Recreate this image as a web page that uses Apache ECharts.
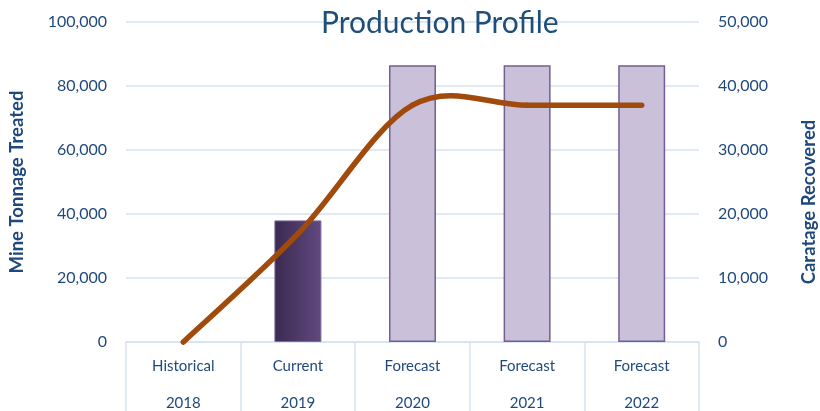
<!DOCTYPE html>
<html>
<head>
<meta charset="utf-8">
<script src="https://cdn.jsdelivr.net/npm/echarts@6/dist/echarts.min.js"></script>
<style>html,body{margin:0;padding:0;background:#fff;}#c{width:820px;height:411px;}</style>
</head>
<body>
<div id="c"></div>
<script>
const stages = ['Historical', 'Current', 'Forecast', 'Forecast', 'Forecast'];
const years = ['2018', '2019', '2020', '2021', '2022'];
const tonnage = [0, 38000, 86500, 86500, 86500];
const carats = [0, 16900, 37000, 37000, 37000];
const leftTicks = [0, 20000, 40000, 60000, 80000, 100000];
const rightTicks = [0, 10000, 20000, 30000, 40000, 50000];

const categories = stages.map((s, i) => s + '\n' + years[i]);
const FONT = 'Lato, "Open Sans", sans-serif';
const TXT = '#1F497D';
const GRID = '#D6E2F1';
const LINE = '#A04A0C';

const barData = tonnage.map((v, i) => {
  if (i === 1) {
    return {
      value: v,
      itemStyle: {
        color: new echarts.graphic.LinearGradient(0, 0, 1, 0, [
          { offset: 0, color: '#3A2A50' },
          { offset: 1, color: '#62497F' }
        ]),
        borderColor: '#7C6A9C',
        borderWidth: 1
      }
    };
  }
  return {
    value: v,
    itemStyle: { color: '#CBC0DA', borderColor: '#735F93', borderWidth: v === 0 ? 0 : 1.5 }
  };
});

const fmt = v => v.toLocaleString('en-US');

// Excel-style smoothed line: Catmull-Rom segments drawn through the axis scales
function renderSegment(params, api) {
  const i = params.dataIndex;
  const n = carats.length;
  if (i >= n - 1) return null;
  const P = k => {
    const kk = Math.max(0, Math.min(n - 1, k));
    return api.coord([kk, carats[kk]]);
  };
  const p0 = P(i - 1), p1 = P(i), p2 = P(i + 1), p3 = P(i + 2);
  const t = 1 / 6;
  return {
    type: 'bezierCurve',
    shape: {
      x1: p1[0], y1: p1[1],
      x2: p2[0], y2: p2[1],
      cpx1: p1[0] + (p2[0] - p0[0]) * t, cpy1: p1[1] + (p2[1] - p0[1]) * t,
      cpx2: p2[0] - (p3[0] - p1[0]) * t, cpy2: p2[1] - (p3[1] - p1[1]) * t
    },
    style: { stroke: LINE, lineWidth: 5.5, fill: null, lineCap: 'round' },
    z2: 10
  };
}

const chart = echarts.init(document.getElementById('c'), null, { renderer: 'canvas' });
chart.setOption({
  animation: false,
  backgroundColor: '#fff',
  title: {
    text: 'Production Profile',
    left: 316,
    top: 3,
    textStyle: { fontFamily: FONT, fontSize: 30, fontWeight: 'normal', color: '#1F4E79' }
  },
  grid: { left: 126, right: 121, top: 22, bottom: 69, containLabel: false, outerBoundsMode: 'none' },
  xAxis: {
    type: 'category',
    data: categories,
    boundaryGap: true,
    axisLine: { show: true, lineStyle: { color: GRID, width: 1.5 } },
    axisTick: { show: true, length: 72, interval: 0, lineStyle: { color: GRID, width: 1.5 } },
    axisLabel: {
      interval: 0, margin: 6, color: TXT, fontFamily: FONT, fontSize: 15, lineHeight: 37
    }
  },
  yAxis: [
    {
      type: 'value', min: 0, max: 100000, interval: 20000,
      name: 'Mine Tonnage Treated',
      nameLocation: 'middle', nameGap: 99, nameRotate: 90,
      nameTextStyle: { fontFamily: FONT, fontSize: 18.5, fontWeight: 'bold', color: TXT },
      axisLine: { show: false }, axisTick: { show: false },
      axisLabel: { margin: 19, color: TXT, fontFamily: FONT, fontSize: 16, formatter: v => leftTicks.includes(v) ? fmt(v) : '' },
      splitLine: { show: true, lineStyle: { color: GRID, width: 1.5 } }
    },
    {
      type: 'value', min: 0, max: 50000, interval: 10000,
      name: 'Caratage Recovered',
      nameLocation: 'middle', nameGap: 101, nameRotate: 90,
      nameTextStyle: { fontFamily: FONT, fontSize: 18.5, fontWeight: 'bold', color: TXT, padding: [0, 40, 0, 0] },
      axisLine: { show: false }, axisTick: { show: false },
      axisLabel: { margin: 19, color: TXT, fontFamily: FONT, fontSize: 16, formatter: v => rightTicks.includes(v) ? fmt(v) : '' },
      splitLine: { show: false }
    }
  ],
  series: [
    {
      type: 'bar', yAxisIndex: 0, data: barData, barWidth: '41%'
    },
    {
      type: 'custom', yAxisIndex: 1, data: carats,
      renderItem: renderSegment, clip: false, z: 5
    }
  ]
});
</script>
</body>
</html>
